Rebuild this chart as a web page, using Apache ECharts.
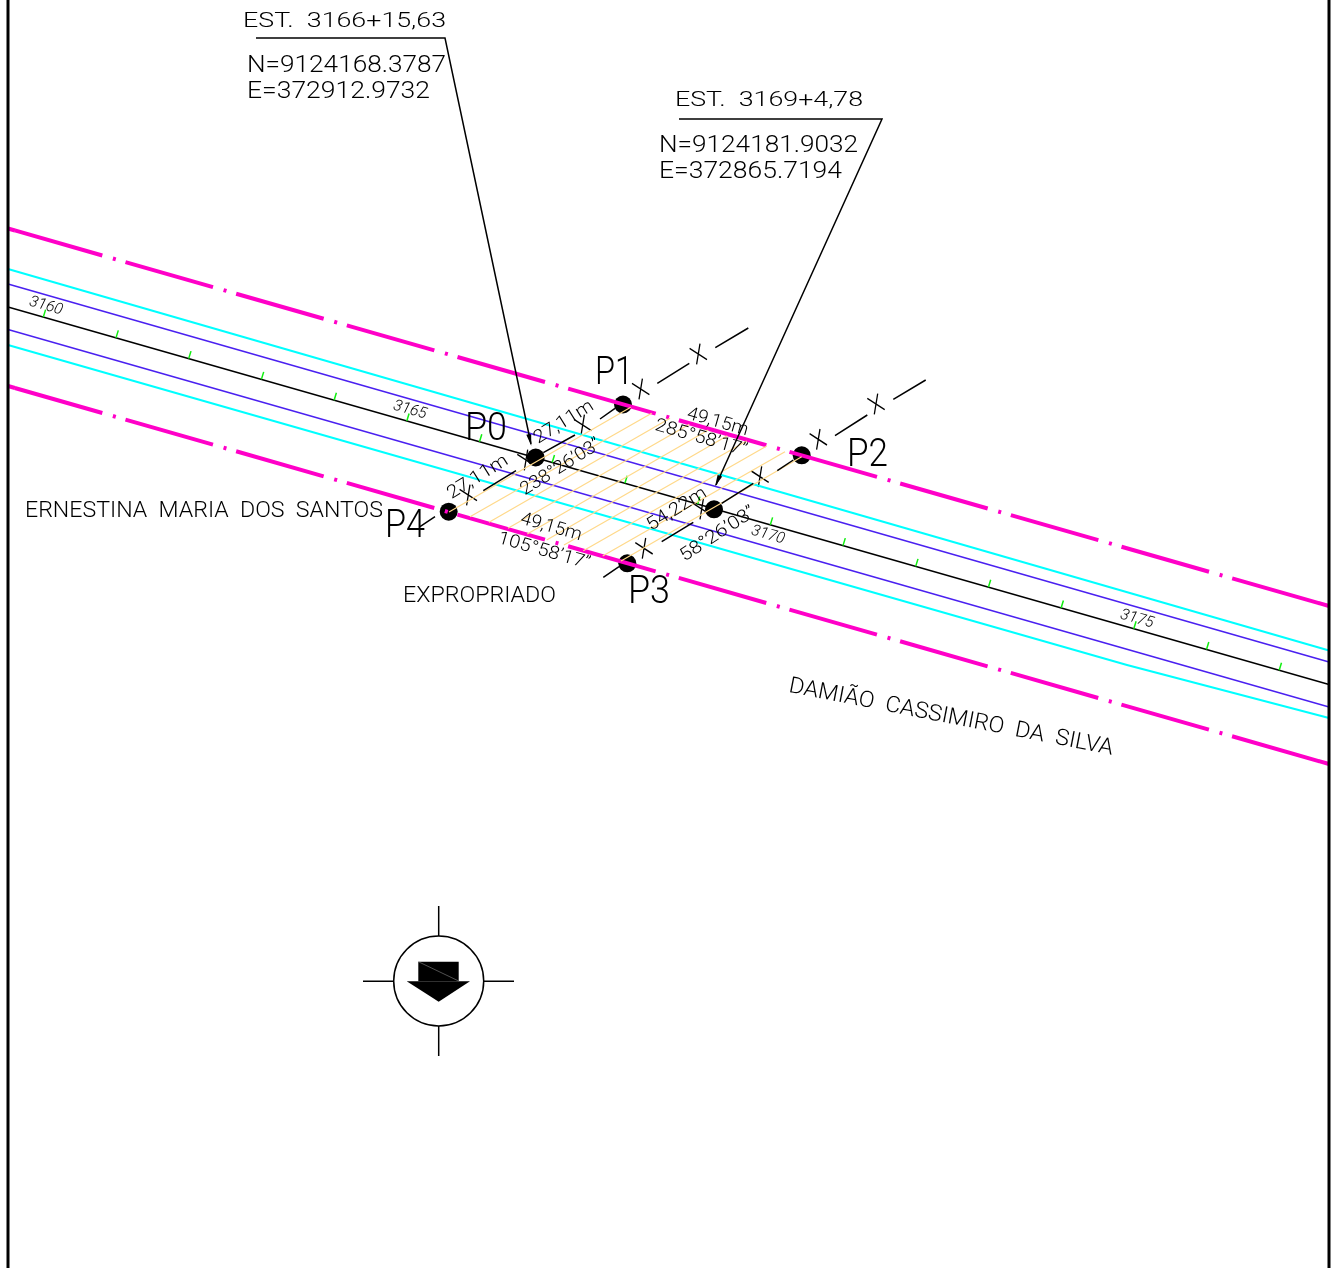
<!DOCTYPE html>
<html><head><meta charset="utf-8">
<style>html,body{margin:0;padding:0;background:#fff}#c{width:1335px;height:1268px}</style>
<script src="https://cdn.jsdelivr.net/npm/echarts@6/dist/echarts.min.js"></script>
</head><body><div id="c"></div>
<script>
// Drawing coordinates read from the plan (x to the right, y downward)
const frameLeft = [[8,0],[8,1268]];
const frameRight = [[1329,0],[1329,1268]];
const limitTop = [[8,228.5],[1329,606]];
const limitBottom = [[8,386],[1329,764]];
const limitTopStubs = [[[8,228.5],[15,230.5]],[[1319,603.1],[1329,606]]];
const limitBottomStubs = [[[8,386],[15,388]],[[1319,761.1],[1329,764]]];
const cyanTop = [[8,269],[1329,650.5]];
const cyanBottom = [[8,345],[1127,665],[1329,718]];
const blueTop = [[8,284],[1329,662]];
const blueBottom = [[8,329.5],[1329,707]];
const axisLine = [[8,307],[1329,684.5]];
const stationX = [43.3,116,188.7,261.4,334.1,406.8,479.5,552.2,624.9,697.6,770.3,843,915.7,988.4,1061.1,1133.8,1206.5,1279.2];
const stationY = [317.1,337.9,358.6,379.4,400.2,421,441.8,462.5,483.3,504.1,524.9,545.6,566.4,587.2,608,628.8,649.5,670.3];
const hatchBottom = [[449,512],[470,516.7],[489,522.3],[508,528.3],[527.3,534],[546.7,540],[564,545],[583.3,550.7],[602.7,556],[621,561]];
const hatchTop = [[630.7,407.3],[651.7,413.3],[670,418.3],[689.3,424.3],[708.3,430],[727.3,435.7],[746.7,441],[766.7,446],[785,451.7],[801.7,456.7]];
const parcelPoints = [[535.7,457.5],[623,404.5],[801.7,455.3],[627.3,563.3],[448.7,511.7],[714,509.3]];
const fenceDashes = [
  [[420,526.7],[435,516.7]],[[483.3,490.7],[516,470.7]],[[543.3,452.7],[575,435]],[[600,419],[615,408.3]],
  [[657.3,383.3],[689.3,363.3]],[[715.3,347.7],[748.3,328]],
  [[603.3,577.3],[619,566.7]],[[661.7,541.7],[693.3,522.3]],[[721.7,503.3],[753.3,483.3]],[[777.3,470.7],[793.3,460]],
  [[835,435.7],[867.3,415]],[[893.3,399.3],[925.7,380]]
];
const fenceCrosses = [[468.3,495],[526,460],[582.7,425],[640.7,389],[698.3,354],[644,548.3],[701.7,509],[760,476.7],[818.3,439.3],[876,404]];
const leaderOne = [[256,38],[445,38],[531,444]];
const leaderTwo = [[679,119],[882,119],[716,485]];
const leaderTips = [[530,440],[717.5,481]];
const compassCentre = [[438.7,981]];
const compassArms = [
  [[438.7,906],[438.7,936]],[[438.7,1026],[438.7,1056]],[[363,981.3],[393.7,981.3]],[[483.7,981.3],[514,981.3]]
];
const compassBody = [[418.3,961.7],[458.7,961.7],[458.7,981.3],[418.3,981.3]];
const compassHead = [[406.7,981.3],[470,981.3],[438.7,1001.7]];
const compassSeam = [[418.3,961.7],[458.7,981]];

const labelTexts = [
  'EST.  3166+15,63','N=9124168.3787','E=372912.9732',
  'EST.  3169+4,78','N=9124181.9032','E=372865.7194',
  'ERNESTINA  MARIA  DOS  SANTOS','EXPROPRIADO','DAMIÃO  CASSIMIRO  DA  SILVA',
  'P0','P1','P2','P3','P4',
  '3160','3165','3170','3175',
  '27,11m','27,11m','49,15m','285°58’17”','238°26’03”','49,15m','105°58’17”','54,22m','58°26’03”'
];
const labelX = [344.5,346.5,338.5, 769,758.5,750.5, 204,479.5,951, 486,614,867.5,649,405, 46,410,768,1137, 564,478,717.5,701,561,551,544,677,718];
const labelY = [20,64,90, 99,144,170, 510,595,716, 427,371,453,590,524, 305,409,534,618, 421,476,421,437,466,526,550,508,533];
const labelWidth = [203,199,183, 188,199,183, 358,153,330, 42,38,41,42,40, 34,34,34,34, 67,68,63,95,91,63,95,67,86];
const labelHeight = [15,17,17, 15,17,17, 16,16,16, 27,27,27,27,27, 11,11,11,11, 13,13,13,13,13,13,13,13,13];
const labelAngle = [0,0,0, 0,0,0, 0,0,-11, 0,0,0,0,0, -16,-16,-16,-16, 32,32,-16,-16,32,-16,-16,32,33];

// Styling
const FONT = 'Roboto';
const WEIGHT = 300;
const ITALIC_FROM = 14, ITALIC_TO = 17;
const CAP_RATIO = 0.711;
const MAGENTA = '#ff00c8', CYAN = '#00ffff', BLUE = '#4a20f0', GREEN = '#11ee11', ORANGE = '#ffd98a';
const DASH = [91,11,3,10.1], DASH_OFFSET = 108;

const gap = ['-','-'];
const joinSegs = list => list.reduce((a,s,i)=>{ if(i) a.push(gap); return a.concat(s); },[]);
const line = (data,color,width,extra) => Object.assign({type:'line',data,showSymbol:false,symbol:'none',silent:true,animation:false,clip:false,
  connectNulls:false,lineStyle:{color,width,cap:'butt',join:'miter'},emphasis:{disabled:true}},extra||{});
const limit = (data) => { const s=line(data,MAGENTA,4); s.lineStyle.type=DASH; s.lineStyle.dashOffset=DASH_OFFSET; return s; };

const stationTicks = joinSegs(stationX.map((x,i)=>[[x,stationY[i]],[x+2.3,stationY[i]-7.5]]));
const hatching = joinSegs(hatchBottom.map((p,i)=>[p,hatchTop[i]]));

const meas = document.createElement('canvas').getContext('2d');
function renderLabel(params, api){
  const i = api.value(2);
  const p = api.coord([api.value(0),api.value(1)]);
  const size = labelHeight[i]/CAP_RATIO;
  const italic = i>=ITALIC_FROM && i<=ITALIC_TO;
  meas.font = (italic?'italic ':'')+WEIGHT+' '+size+'px '+FONT;
  const w = meas.measureText(labelTexts[i]).width;
  return {type:'text',x:p[0],y:p[1]+size*0.08,rotation:labelAngle[i]*Math.PI/180,scaleX:labelWidth[i]/w,
    style:{text:labelTexts[i],fontSize:size,fontFamily:FONT,fontWeight:WEIGHT,fontStyle:italic?'italic':'normal',
      fill:'#000',align:'center',verticalAlign:'middle'}};
}
function renderPolygons(params, api){
  const poly = params.dataIndex===0?compassBody:compassHead;
  return {type:'polygon',shape:{points:poly.map(q=>api.coord(q))},style:{fill:'#000'}};
}

const option = {
  animation:false,
  backgroundColor:'#fff',
  grid:{left:0,right:0,top:0,bottom:0},
  xAxis:{type:'value',min:0,max:1335,show:false},
  yAxis:{type:'value',min:0,max:1268,inverse:true,show:false},
  series:[
    line(cyanTop,CYAN,2),
    line(cyanBottom,CYAN,2),
    line(blueTop,BLUE,1.5),
    line(blueBottom,BLUE,1.5),
    line(axisLine,'#000',1.5),
    line(stationTicks,GREEN,1.5),
    limit(limitTop),limit(limitBottom),
    line(joinSegs(limitTopStubs),MAGENTA,4),line(joinSegs(limitBottomStubs),MAGENTA,4),
    {type:'scatter',data:parcelPoints,symbol:'circle',symbolSize:18,itemStyle:{color:'#000',opacity:1},silent:true,animation:false},
    line(hatching,ORANGE,1.2),
    line(joinSegs(fenceDashes),'#000',1.5),
    {type:'scatter',data:fenceCrosses,symbol:'path://M-8.7,-5.7L8.7,5.7M-1.7,10.3L1.7,-10.3',symbolSize:[17.4,20.6],
      itemStyle:{color:'none',borderColor:'#000',borderWidth:1.4,opacity:1},silent:true,animation:false},
    line(leaderOne,'#000',1.5),
    line(leaderTwo,'#000',1.5),
    {type:'scatter',data:[leaderTips[0]],symbol:'triangle',symbolSize:[5,12],symbolRotate:-168,itemStyle:{color:'#000',opacity:1},silent:true,animation:false},
    {type:'scatter',data:[leaderTips[1]],symbol:'triangle',symbolSize:[5,12],symbolRotate:-204,itemStyle:{color:'#000',opacity:1},silent:true,animation:false},
    line(frameLeft,'#000',3),
    line(frameRight,'#000',3),
    {type:'scatter',data:compassCentre,symbol:'circle',symbolSize:90,itemStyle:{color:'#fff',borderColor:'#000',borderWidth:1.5,opacity:1},silent:true,animation:false},
    line(joinSegs(compassArms),'#000',1.5),
    {type:'custom',data:[[0,0],[1,1]],renderItem:renderPolygons,silent:true,animation:false,z:3,clip:false},
    line(compassSeam,'#888',0.6,{z:4}),
    {type:'custom',data:labelTexts.map((t,i)=>[labelX[i],labelY[i],i]),encode:{x:0,y:1},renderItem:renderLabel,silent:true,animation:false,z:5,clip:false}
  ]
};
const chart = echarts.init(document.getElementById('c'),null,{renderer:'canvas',width:1335,height:1268});
chart.setOption(option);
</script></body></html>
